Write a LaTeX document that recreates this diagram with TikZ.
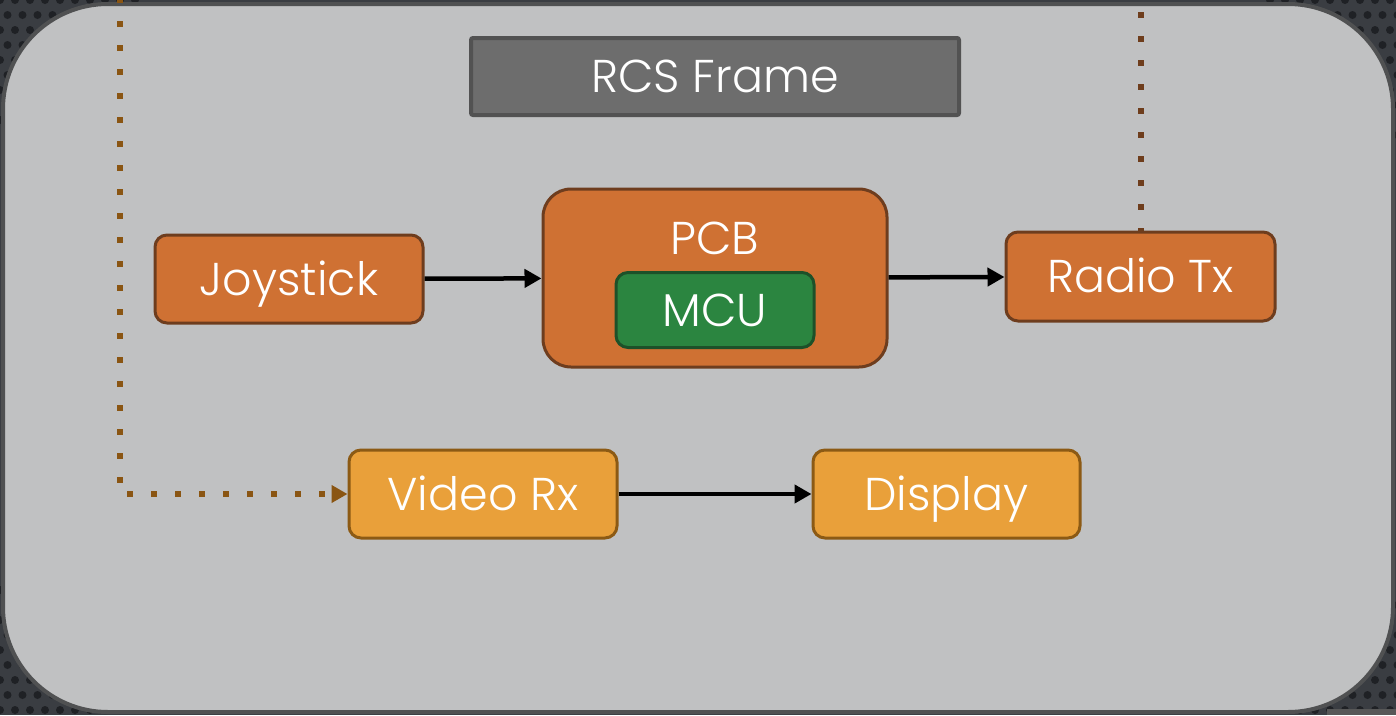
\documentclass[tikz,border=0pt]{standalone}
\usepackage{fontspec}
\setmainfont{Poppins}[UprightFont=* Light]
\usetikzlibrary{arrows.meta}

\definecolor{bgdark}{HTML}{3A3D42}
\definecolor{bgdot}{HTML}{1F2125}
\definecolor{panel}{HTML}{C0C1C2}
\definecolor{panelrim}{HTML}{505152}
\definecolor{titlefill}{HTML}{6D6D6D}
\definecolor{titlerim}{HTML}{525252}
\definecolor{orfill}{HTML}{CF7133}
\definecolor{orrim}{HTML}{6E3D1E}
\definecolor{ylfill}{HTML}{E9A03A}
\definecolor{ylrim}{HTML}{8C5A14}
\definecolor{grfill}{HTML}{2B8540}
\definecolor{grrim}{HTML}{1D5129}
\definecolor{linkA}{HTML}{8A5512}
\definecolor{linkB}{HTML}{6E3D1C}

\tikzset{
  label font/.style={font=\fontsize{46}{48}\selectfont, text=white,
    text height=32pt, text depth=0pt},
  blockbase/.style={rounded corners=12pt, line width=3pt,
    inner sep=0pt, label font},
  hwblock/.style={blockbase, fill=orfill, draw=orrim},
  avblock/.style={blockbase, fill=ylfill, draw=ylrim},
  chipblock/.style={blockbase, fill=grfill, draw=grrim},
  titlebar/.style={fill=titlefill, draw=titlerim, line width=4pt,
    rounded corners=2pt, inner sep=0pt, label font},
  flow/.style={line width=4.5pt, black,
    -{Triangle[length=17pt,width=18pt]}},
  rflink/.style={line width=6pt, dash pattern=on 6pt off 18pt,
    -{Triangle[length=16pt,width=17pt]}},
}

\begin{document}
\begin{tikzpicture}[x=1pt,y=-1pt]
\useasboundingbox (0,0) rectangle (1396,715);

% perforated dark backdrop
\fill[bgdark] (0,0) rectangle (1396,715);
\foreach \cx/\cy in {0/0,1270/0,0/590,1270/590}{
  \foreach \i in {0,...,9}{
    \foreach \j in {0,...,9}{
      \fill[bgdot] ({\cx+\i*15+mod(\j,2)*7.5},{\cy+\j*15}) circle (4pt);
    }
  }
}
\fill[titlefill!80!black] (1327,709) rectangle (1396,715);

% main panel
\draw[fill=panel, draw=panelrim, line width=4pt, rounded corners=105pt]
  (3,4) rectangle (1393,712);

% title bar
\node[titlebar, minimum width=488pt, minimum height=77pt] (title)
  at (715,76.5) {RCS Frame};

% blocks
\node[hwblock, minimum width=268pt, minimum height=88pt] (joy)
  at (289,279) {Joystick};
\node[hwblock, rounded corners=28pt, minimum width=344pt, minimum height=178pt] (pcb)
  at (715,278) {};
\node[label font, inner sep=0pt] (pcblabel)
  at (715,238.5) {PCB};
\node[chipblock, minimum width=198pt, minimum height=75pt] (mcu)
  at (715,310) {MCU};
\node[hwblock, minimum width=269pt, minimum height=89pt] (rtx)
  at (1140.5,276.5) {Radio Tx};
\node[avblock, minimum width=268pt, minimum height=88pt] (vrx)
  at (483,494) {Video Rx};
\node[avblock, minimum width=267pt, minimum height=88pt] (disp)
  at (946.5,494) {Display};

% signal flow
\draw[flow] (joy) -- (pcb);
\draw[flow] (pcb) -- (rtx);
\draw[flow] (vrx) -- (disp);

% radio links leaving the frame
\coordinate (vlinktop) at (120,-3);
\coordinate (rlinktop) at (1140.5,-12);
\draw[rflink, linkA] (vlinktop) |- (vrx.west);
\draw[line width=6pt, dash pattern=on 6pt off 18pt, linkB] (rlinktop) -- (rtx.north);
\end{tikzpicture}
\end{document}
